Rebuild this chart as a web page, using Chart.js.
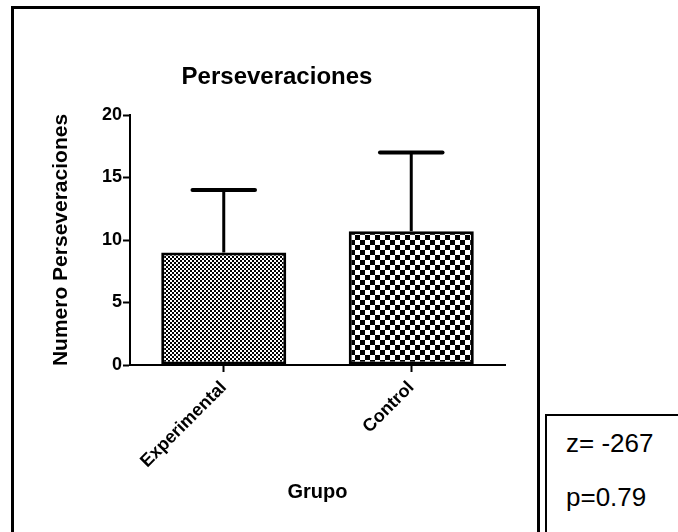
<!DOCTYPE html>
<html>
<head>
<meta charset="utf-8">
<title>Perseveraciones</title>
<script src="https://cdn.jsdelivr.net/npm/chart.js@4.4.1/dist/chart.umd.min.js"></script>
<style>
  html, body { margin: 0; padding: 0; background: #fff; }
  #wrap { position: relative; width: 678px; height: 532px; overflow: hidden; }
  #frame { position: absolute; left: 11px; top: 6px; width: 523px; height: 600px; border: 3px solid #000; }
  #stats { position: absolute; left: 545px; top: 414px; width: 200px; height: 200px; border: 2px solid #000;
           font-family: "Liberation Sans", Arial, sans-serif; font-size: 26px; color: #000; }
  #stats div { position: absolute; left: 19px; line-height: 26px; white-space: nowrap; }
  canvas { position: absolute; left: 0; top: 0; }
</style>
</head>
<body>
<div id="wrap">
  <div id="frame"></div>
  <div id="stats">
    <div style="top:14px">z= -267</div>
    <div style="top:68px">p=0.79</div>
  </div>
  <canvas id="chart" width="678" height="532"></canvas>
</div>
<script>
// Mean number of perseverations per group, with the upper error (SD)
const groups = ['Experimental', 'Control'];
const means = [9.0, 10.7];
const errors = [5.0, 6.3];
const yTicks = [0, 5, 10, 15, 20];

const FONT = '"Liberation Sans", Arial, sans-serif';
Chart.defaults.font.family = FONT;
Chart.defaults.color = '#000';

// Black/white checkerboard fill; cell = square size in px
function checker(cell) {
  const c = document.createElement('canvas');
  c.width = c.height = cell * 2;
  const g = c.getContext('2d');
  g.fillStyle = '#fff';
  g.fillRect(0, 0, cell * 2, cell * 2);
  g.fillStyle = '#000';
  g.fillRect(0, 0, cell, cell);
  g.fillRect(cell, cell, cell, cell);
  return g.createPattern(c, 'repeat');
}

// Upper error bars with a cap half as wide as the bar
const errorBars = {
  id: 'errorBars',
  afterDatasetsDraw(chart) {
    const meta = chart.getDatasetMeta(0);
    const yScale = chart.scales.y;
    const ctx = chart.ctx;
    ctx.save();
    ctx.strokeStyle = '#000';
    meta.data.forEach((bar, i) => {
      const top = yScale.getPixelForValue(means[i] + errors[i]);
      const half = bar.width / 4;
      ctx.lineWidth = 3;
      ctx.lineCap = 'butt';
      ctx.beginPath();
      ctx.moveTo(bar.x, bar.y);
      ctx.lineTo(bar.x, top);
      ctx.stroke();
      ctx.lineWidth = 4;
      ctx.lineCap = 'round';
      ctx.beginPath();
      ctx.moveTo(bar.x - half, top);
      ctx.lineTo(bar.x + half, top);
      ctx.stroke();
    });
    ctx.restore();
  }
};

new Chart(document.getElementById('chart'), {
  type: 'bar',
  data: {
    labels: groups,
    datasets: [{
      data: means,
      backgroundColor: [checker(2), checker(5)],
      borderColor: '#000',
      borderWidth: 3,
      borderSkipped: false,
      categoryPercentage: 1,
      barPercentage: 0.667
    }]
  },
  options: {
    responsive: false,
    animation: false,
    events: [],
    devicePixelRatio: 1,
    layout: { padding: { left: 49, right: 173, top: 0, bottom: 0 } },
    plugins: {
      legend: { display: false },
      tooltip: { enabled: false },
      title: {
        display: true,
        text: 'Perseveraciones',
        color: '#000',
        font: { family: FONT, size: 24, weight: 'bold' },
        padding: { top: 62.5, bottom: 23.7 }
      }
    },
    scales: {
      x: {
        offset: true,
        grid: { display: true, drawOnChartArea: false, drawTicks: true, tickLength: 7, tickWidth: 2, tickColor: '#000', offset: false },
        border: { display: true, color: '#000', width: 2 },
        ticks: { color: '#000', font: { family: FONT, size: 18, weight: 'bold' }, minRotation: 45, maxRotation: 45, padding: 5, autoSkip: false },
        title: { display: true, text: 'Grupo', color: '#000', font: { family: FONT, size: 20, weight: 'bold' }, padding: { top: 0, bottom: 28 } },
        afterFit(s) { s.height = 167; }
      },
      y: {
        min: 0,
        max: 20,
        afterBuildTicks(s) { s.ticks = yTicks.map(v => ({ value: v })); },
        grid: { display: true, drawOnChartArea: false, drawTicks: true, tickLength: 7, tickWidth: 2, tickColor: '#000' },
        border: { display: true, color: '#000', width: 2 },
        ticks: { color: '#000', font: { family: FONT, size: 18, weight: 'bold' }, padding: 1 },
        title: { display: true, text: 'Numero Perseveraciones', color: '#000', font: { family: FONT, size: 21, weight: 'bold' }, padding: { top: 0, bottom: 0 } },
        afterFit(s) { s.width = 81; }
      }
    }
  },
  plugins: [errorBars]
});
</script>
</body>
</html>
